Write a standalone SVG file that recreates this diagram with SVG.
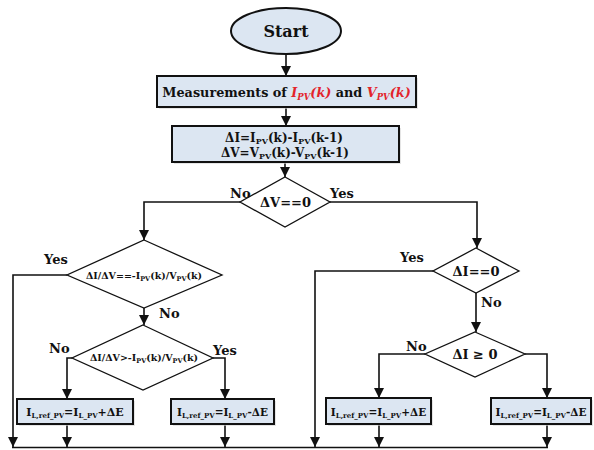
<svg xmlns="http://www.w3.org/2000/svg" width="594" height="450" viewBox="0 0 594 450">
<style>
text{font-family:"DejaVu Serif","Liberation Serif",serif;font-weight:bold;fill:#111}
.box{fill:#dce6f2;stroke:#111;stroke-width:2}
.sh{fill:#d4d4d4;opacity:.6}
.dia{fill:#fff;stroke:#111;stroke-width:1.3}
.c{fill:none;stroke:#111;stroke-width:1.6}
.lbl{font-size:13px}
.red{fill:#e3232b;font-style:italic}
</style>
<defs>
<marker id="ah" markerUnits="userSpaceOnUse" markerWidth="10" markerHeight="12" refX="10" refY="5" orient="auto">
<path d="M0,0 L10,5 L0,10 Z" fill="#111"/>
</marker>
</defs>
<rect width="594" height="450" fill="#fff"/>

<g id="connectors">
<path class="c" d="M286,54 V76" marker-end="url(#ah)"/>
<path class="c" d="M286,107 V126" marker-end="url(#ah)"/>
<path class="c" d="M285,162 V177" marker-end="url(#ah)"/>
<path class="c" d="M240,202 H144 V240" marker-end="url(#ah)"/>
<path class="c" d="M330,202 H477 V248" marker-end="url(#ah)"/>
<path class="c" d="M67,275 H13 V447" marker-end="url(#ah)"/>
<path class="c" d="M144,308 V325" marker-end="url(#ah)"/>
<path class="c" d="M72,358 H67 V399" marker-end="url(#ah)"/>
<path class="c" d="M213,358 H225 V399" marker-end="url(#ah)"/>
<path class="c" d="M67,424 V447" marker-end="url(#ah)"/>
<path class="c" d="M225,424 V447" marker-end="url(#ah)"/>
<path class="c" d="M433,271 H315 V447" marker-end="url(#ah)"/>
<path class="c" d="M476,293 V332" marker-end="url(#ah)"/>
<path class="c" d="M425,354 H379 V398" marker-end="url(#ah)"/>
<path class="c" d="M525,354 H547 V398" marker-end="url(#ah)"/>
<path class="c" d="M379,424 V447" marker-end="url(#ah)"/>
<path class="c" d="M547,424 V447" marker-end="url(#ah)"/>
<path class="c" d="M12,447.5 H548"/>
</g>

<g id="start">
<ellipse cx="286" cy="31" rx="55" ry="23" fill="#dce6f2" stroke="#111" stroke-width="2"/>
<text x="286" y="37" font-size="16" text-anchor="middle">Start</text>
</g>

<g id="measure">
<rect class="sh" x="159" y="78" width="259" height="31"/>
<rect class="box" x="157" y="76" width="259" height="31"/>
<text x="286.5" y="97" font-size="12.8" text-anchor="middle">Measurements of <tspan class="red">I<tspan font-size="8.5" dy="3">PV</tspan><tspan dy="-3">(k)</tspan></tspan> and <tspan class="red">V<tspan font-size="8.5" dy="3">PV</tspan><tspan dy="-3">(k)</tspan></tspan></text>
</g>

<g id="delta">
<rect class="sh" x="174" y="128" width="227" height="36"/>
<rect class="box" x="172" y="126" width="227" height="36"/>
<text x="284" y="142" font-size="12" text-anchor="middle">ΔI=I<tspan font-size="8" dy="2">PV</tspan><tspan dy="-2">(k)-I</tspan><tspan font-size="8" dy="2">PV</tspan><tspan dy="-2">(k-1)</tspan></text>
<text x="285" y="157" font-size="12" text-anchor="middle">ΔV=V<tspan font-size="8" dy="2">PV</tspan><tspan dy="-2">(k)-V</tspan><tspan font-size="8" dy="2">PV</tspan><tspan dy="-2">(k-1)</tspan></text>
</g>

<g id="d1">
<polygon class="dia" points="285,177 330,202 285,227 240,202"/>
<text x="285.5" y="207" font-size="13" text-anchor="middle">ΔV==0</text>
</g>

<g id="d2">
<polygon class="dia" points="144,240 222,275 144,308 67,275"/>
<text x="144" y="279" font-size="9.5" text-anchor="middle">ΔI/ΔV==-I<tspan font-size="6.5" dy="1.5">PV</tspan><tspan dy="-1.5">(k)/V</tspan><tspan font-size="6.5" dy="1.5">PV</tspan><tspan dy="-1.5">(k)</tspan></text>
</g>

<g id="d3">
<polygon class="dia" points="143,325 213,358 143,390 72,358"/>
<text x="144" y="361" font-size="9.5" text-anchor="middle">ΔI/ΔV&gt;-I<tspan font-size="6.5" dy="1.5">PV</tspan><tspan dy="-1.5">(k)/V</tspan><tspan font-size="6.5" dy="1.5">PV</tspan><tspan dy="-1.5">(k)</tspan></text>
</g>

<g id="d4">
<polygon class="dia" points="476,248 519,271 476,293 433,271"/>
<text x="476" y="276" font-size="13" text-anchor="middle">ΔI==0</text>
</g>

<g id="d5">
<polygon class="dia" points="475,332 525,354 475,377 425,354"/>
<text x="475" y="359" font-size="13" text-anchor="middle">ΔI ≥ 0</text>
</g>

<g id="b1">
<rect class="sh" x="19" y="401" width="116" height="25"/>
<rect class="box" x="17" y="399" width="116" height="25"/>
<text x="75" y="416" font-size="11" text-anchor="middle">I<tspan font-size="7" dy="2">L,ref_PV</tspan><tspan dy="-2">=I</tspan><tspan font-size="7" dy="2">L_PV</tspan><tspan dy="-2">+ΔE</tspan></text>
</g>

<g id="b2">
<rect class="sh" x="173" y="401" width="103" height="25"/>
<rect class="box" x="171" y="399" width="103" height="25"/>
<text x="222.5" y="416" font-size="10.5" text-anchor="middle">I<tspan font-size="7" dy="2">L,ref_PV</tspan><tspan dy="-2">=I</tspan><tspan font-size="7" dy="2">L_PV</tspan><tspan dy="-2">-ΔE</tspan></text>
</g>

<g id="b3">
<rect class="sh" x="328" y="400" width="105" height="26"/>
<rect class="box" x="326" y="398" width="105" height="26"/>
<text x="378.5" y="416" font-size="10.5" text-anchor="middle">I<tspan font-size="7" dy="2">L,ref_PV</tspan><tspan dy="-2">=I</tspan><tspan font-size="7" dy="2">L_PV</tspan><tspan dy="-2">+ΔE</tspan></text>
</g>

<g id="b4">
<rect class="sh" x="493" y="400" width="100" height="26"/>
<rect class="box" x="491" y="398" width="100" height="26"/>
<text x="541" y="416" font-size="10.5" text-anchor="middle">I<tspan font-size="7" dy="2">L,ref_PV</tspan><tspan dy="-2">=I</tspan><tspan font-size="7" dy="2">L_PV</tspan><tspan dy="-2">-ΔE</tspan></text>
</g>

<g id="labels">
<text class="lbl" x="230" y="198">No</text>
<text class="lbl" x="330" y="198">Yes</text>
<text class="lbl" x="44" y="264">Yes</text>
<text class="lbl" x="159" y="318">No</text>
<text class="lbl" x="49" y="353">No</text>
<text class="lbl" x="213" y="355">Yes</text>
<text class="lbl" x="400" y="262">Yes</text>
<text class="lbl" x="481" y="307">No</text>
<text class="lbl" x="406" y="351">No</text>
</g>
</svg>
